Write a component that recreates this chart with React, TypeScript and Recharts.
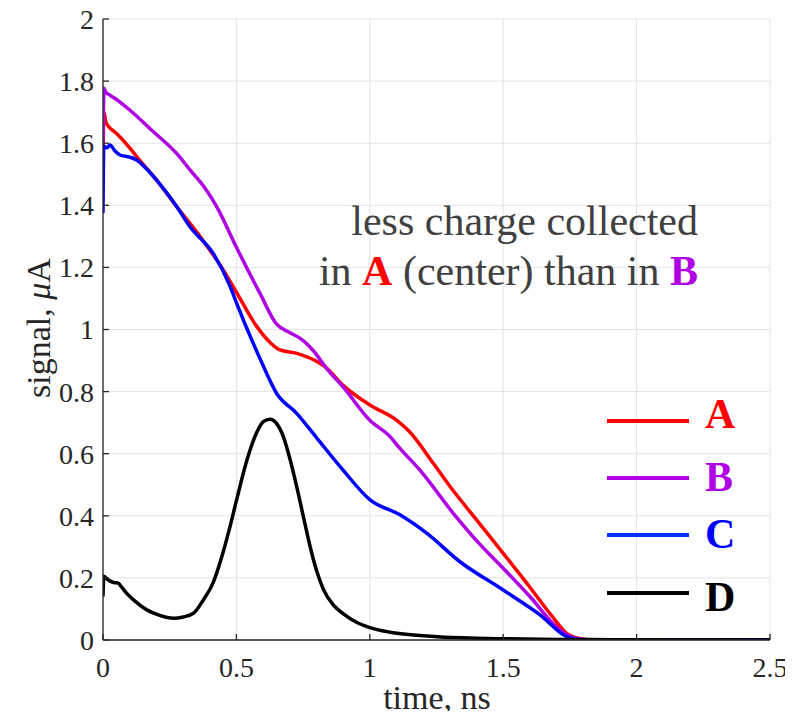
import React from "react";
import { LineChart, Line, XAxis, YAxis, CartesianGrid } from "recharts";

// [time (ns), signal (uA)]
const seriesA = [
  [0, 1.56], [0.004, 1.7], [0.01, 1.67], [0.02, 1.655], [0.05, 1.632], [0.1, 1.585],
  [0.126, 1.557], [0.2, 1.482], [0.276, 1.396], [0.364, 1.299], [0.45, 1.193], [0.5, 1.12],
  [0.576, 1.01], [0.63, 0.955], [0.663, 0.934], [0.726, 0.923], [0.813, 0.891], [0.838, 0.876],
  [0.9, 0.82], [1.0, 0.757], [1.1, 0.708], [1.15, 0.67], [1.238, 0.569], [1.3, 0.495],
  [1.4, 0.387], [1.5, 0.279], [1.6, 0.17], [1.68, 0.08], [1.738, 0.021], [1.79, 0.004],
  [1.85, 0], [2.5, 0],
];
const seriesB = [
  [0, 1.6], [0.004, 1.777], [0.01, 1.765], [0.026, 1.755], [0.06, 1.735], [0.1, 1.707],
  [0.189, 1.637], [0.276, 1.567], [0.326, 1.514], [0.38, 1.458], [0.426, 1.396], [0.5, 1.265],
  [0.588, 1.117], [0.651, 1.017], [0.7, 0.99], [0.738, 0.972], [0.79, 0.93], [0.838, 0.875],
  [0.9, 0.815], [1.0, 0.708], [1.076, 0.655], [1.113, 0.617], [1.188, 0.547], [1.313, 0.408],
  [1.4, 0.32], [1.5, 0.231], [1.6, 0.14], [1.713, 0.032], [1.76, 0.008], [1.8, 0.002],
  [1.85, 0], [2.5, 0],
];
const seriesC = [
  [0, 1.375], [0.003, 1.59], [0.015, 1.585], [0.026, 1.594], [0.045, 1.575], [0.064, 1.562],
  [0.1, 1.555], [0.126, 1.546], [0.16, 1.52], [0.201, 1.481], [0.276, 1.396], [0.326, 1.331],
  [0.413, 1.245], [0.476, 1.14], [0.501, 1.084], [0.588, 0.907], [0.651, 0.794], [0.726, 0.73],
  [0.8, 0.652], [0.9, 0.547], [1.0, 0.452], [1.113, 0.403], [1.213, 0.344], [1.338, 0.252],
  [1.5, 0.161], [1.638, 0.081], [1.738, 0.011], [1.78, 0.002], [1.82, 0], [2.5, 0],
];
const seriesD = [
  [0, 0.14], [0.003, 0.205], [0.02, 0.193], [0.04, 0.185], [0.057, 0.183], [0.07, 0.17],
  [0.089, 0.15], [0.12, 0.125], [0.164, 0.097], [0.21, 0.08], [0.264, 0.07], [0.3, 0.074],
  [0.339, 0.086], [0.376, 0.129], [0.413, 0.185], [0.451, 0.285], [0.476, 0.365],
  [0.501, 0.452], [0.539, 0.578], [0.576, 0.668], [0.601, 0.703], [0.626, 0.711],
  [0.651, 0.697], [0.676, 0.655], [0.701, 0.582], [0.726, 0.494], [0.751, 0.397],
  [0.776, 0.302], [0.801, 0.222], [0.826, 0.163], [0.863, 0.113], [0.901, 0.084],
  [0.95, 0.057], [1.0, 0.04], [1.076, 0.025], [1.2, 0.014], [1.35, 0.007], [1.5, 0.004],
  [1.7, 0.002], [1.9, 0.001], [2.5, 0],
];

const xTicks = [0, 0.5, 1, 1.5, 2, 2.5];
const yTicks = [0, 0.2, 0.4, 0.6, 0.8, 1, 1.2, 1.4, 1.6, 1.8, 2];

const series = [
  { name: "A", points: seriesA, color: "#ff0000" },
  { name: "B", points: seriesB, color: "#b000e6" },
  { name: "C", points: seriesC, color: "#0000ff" },
  { name: "D", points: seriesD, color: "#000000" },
];

const toRows = (pts: number[][]) => pts.map(([t, v]) => ({ t, v }));

const FONT = "'Liberation Serif', 'Times New Roman', serif";
const AXIS = "#262626";

// legend rows: line y and letter baseline (page px)
const legendRows = [
  { name: "A", color: "#ff0000", lineY: 421, baseY: 428 },
  { name: "B", color: "#b000e6", lineY: 478, baseY: 491 },
  { name: "C", color: "#0033ff", lineY: 535, baseY: 548 },
  { name: "D", color: "#000000", lineY: 593, baseY: 611 },
];

export default function App() {
  const tickStyle = { fontFamily: FONT, fontSize: 28, fill: AXIS };
  return (
    <div style={{ position: "relative", width: 793, height: 719, margin: -8 }}>
      <LineChart width={793} height={719} margin={{ top: 19, right: 23, bottom: 0, left: 0 }}>
        <CartesianGrid stroke="#e4e4e4" strokeWidth={1} />
        <XAxis
          type="number"
          dataKey="t"
          domain={[0, 2.5]}
          ticks={xTicks}
          interval={0}
          height={79}
          tickSize={-6}
          tickMargin={23}
          stroke={AXIS}
          strokeWidth={1.3}
          tick={tickStyle}
          allowDataOverflow
        />
        <YAxis
          type="number"
          domain={[0, 2]}
          ticks={yTicks}
          interval={0}
          width={103}
          tickSize={-6}
          tickMargin={15}
          stroke={AXIS}
          strokeWidth={1.3}
          tick={tickStyle}
          allowDataOverflow
        />
        {series.map((s) => (
          <Line
            key={s.name}
            data={toRows(s.points)}
            dataKey="v"
            type="monotone"
            stroke={s.color}
            strokeWidth={3.5}
            dot={false}
            activeDot={false}
            isAnimationActive={false}
          />
        ))}
      </LineChart>
      <svg
        width={793}
        height={719}
        style={{ position: "absolute", left: 0, top: 0, pointerEvents: "none" }}
        fontFamily={FONT}
      >
        <text x={437} y={709} fontSize={34} textAnchor="middle" fill={AXIS}>
          time, ns
        </text>
        <text x={50} y={328} fontSize={34} textAnchor="middle" fill={AXIS} transform="rotate(-90 50 328)">
          signal, <tspan fontStyle="italic">μ</tspan>A
        </text>
        <text x={698} y={235} fontSize={42} textAnchor="end" fill="#404040">
          less charge collected
        </text>
        <text x={698} y={285} fontSize={42} textAnchor="end" fill="#404040">
          in <tspan fontWeight="bold" fill="#ff0000">A</tspan> (center) than in{" "}
          <tspan fontWeight="bold" fill="#b000e6">B</tspan>
        </text>
        {legendRows.map((r) => (
          <g key={r.name}>
            <line x1={607} x2={689} y1={r.lineY} y2={r.lineY} stroke={r.color} strokeWidth={4} />
            <text x={705} y={r.baseY} fontSize={42} fontWeight="bold" fill={r.name === "C" ? "#0000ff" : r.color}>
              {r.name}
            </text>
          </g>
        ))}
      </svg>
    </div>
  );
}
